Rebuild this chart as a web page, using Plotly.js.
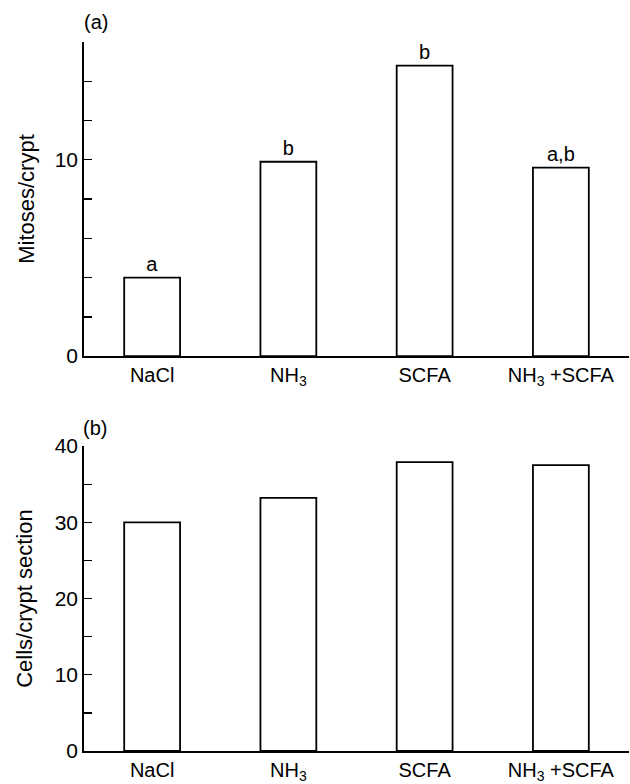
<!DOCTYPE html>
<html>
<head>
<meta charset="utf-8">
<script src="https://cdn.plot.ly/plotly-3.0.1.min.js"></script>
<style>html,body{margin:0;padding:0;background:#fff;}#chart{width:630px;height:784px;}</style>
</head>
<body>
<div id="chart"></div>
<script>
// ---- data ----
const categories = ["NaCl", "NH<sub>3</sub>", "SCFA", "NH<sub>3</sub> +SCFA"];
const mitoses = [4.0, 9.9, 14.8, 9.6];
const mitosesLetters = ["a", "b", "b", "a,b"];
const cells = [30.0, 33.2, 37.9, 37.5];
const yTicksA = [0, 10];
const yMinorA = [2, 4, 6, 8, 12, 14, 16];
const yTicksB = [0, 10, 20, 30, 40];
const yMinorB = [5, 15, 25, 35];

const FONT = "Liberation Sans, Arial, sans-serif";
const xIdx = categories.map((c, i) => i);

const barStyle = {color: "#ffffff", line: {color: "#000000", width: 1.8}};

const traces = [
  {
    type: "bar", x: xIdx, y: mitoses, xaxis: "x", yaxis: "y",
    width: 0.41, marker: barStyle,
    text: mitosesLetters, textposition: "outside", cliponaxis: false,
    textfont: {family: FONT, size: 20, color: "#000"},
    hoverinfo: "skip"
  },
  {
    type: "bar", x: xIdx, y: cells, xaxis: "x2", yaxis: "y2",
    width: 0.41, marker: barStyle, hoverinfo: "skip"
  }
];

const xCommon = {
  range: [-0.5, 3.5], tickmode: "array", tickvals: xIdx, ticktext: categories,
  showline: true, linecolor: "#000", linewidth: 1.8, ticks: "", showgrid: false,
  zeroline: false, tickfont: {family: FONT, size: 20, color: "#000"}, fixedrange: true
};
const yCommon = {
  showline: true, linecolor: "#000", linewidth: 1.8, ticks: "inside", ticklen: 8,
  tickwidth: 1.4, tickcolor: "#000", showgrid: false, zeroline: false,
  tickfont: {family: FONT, size: 21, color: "#000"}, tickmode: "array", fixedrange: true,
  ticklabelstandoff: 0
};

const layout = {
  width: 630, height: 784,
  margin: {l: 84, r: 1, t: 42, b: 33},
  paper_bgcolor: "#fff", plot_bgcolor: "#fff",
  showlegend: false, bargap: 0,
  font: {family: FONT, color: "#000"},
  xaxis: Object.assign({}, xCommon, {anchor: "y"}),
  yaxis: Object.assign({}, yCommon, {
    domain: [0.557, 1], range: [0, 16], tickvals: yTicksA,
    minor: {tickmode: "array", tickvals: yMinorA, ticks: "inside", ticklen: 8, tickwidth: 1.4, tickcolor: "#000", showgrid: false},
    anchor: "x", title: {text: "Mitoses/crypt", font: {family: FONT, size: 22, color: "#000"}, standoff: 14}
  }),
  xaxis2: Object.assign({}, xCommon, {anchor: "y2"}),
  yaxis2: Object.assign({}, yCommon, {
    domain: [0, 0.430], range: [0, 40], tickvals: yTicksB,
    minor: {tickmode: "array", tickvals: yMinorB, ticks: "inside", ticklen: 8, tickwidth: 1.4, tickcolor: "#000", showgrid: false},
    anchor: "x2", title: {text: "Cells/crypt section", font: {family: FONT, size: 22, color: "#000"}, standoff: 16}
  }),
  annotations: [
    {text: "(a)", xref: "paper", yref: "paper", x: -0.004, y: 1.0, yshift: 20, xanchor: "left", yanchor: "middle",
     showarrow: false, font: {family: FONT, size: 20, color: "#000"}},
    {text: "(b)", xref: "paper", yref: "paper", x: -0.006, y: 0.430, yshift: 18, xanchor: "left", yanchor: "middle",
     showarrow: false, font: {family: FONT, size: 20, color: "#000"}}
  ]
};

Plotly.newPlot("chart", traces, layout, {displayModeBar: false, staticPlot: true});
</script>
</body>
</html>
